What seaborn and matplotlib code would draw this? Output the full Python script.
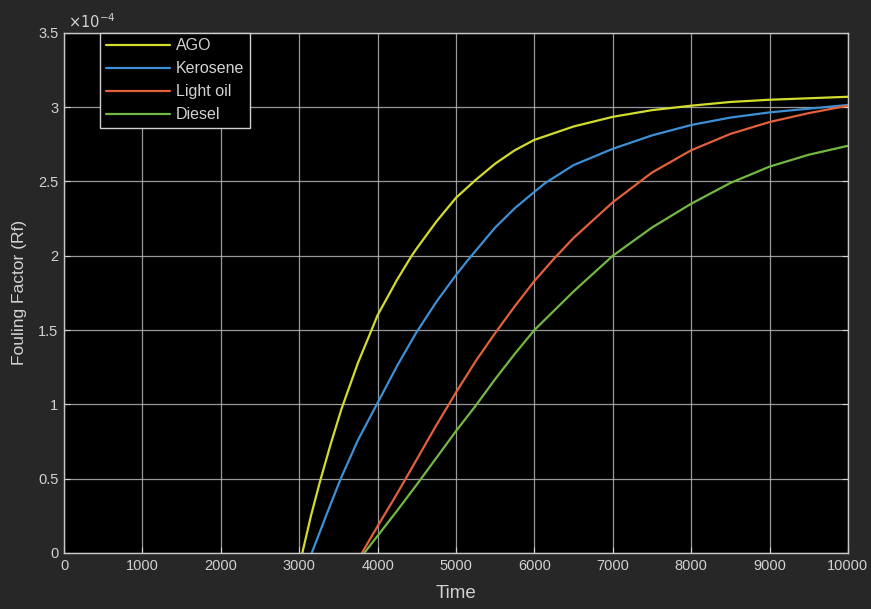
import pandas as pd
import numpy as np
import seaborn as sns
import matplotlib
matplotlib.use("Agg")
import matplotlib.pyplot as plt

# values, Rf in units of 1e-4
ago_t = [3040, 3150, 3270, 3400, 3540, 3750, 3915, 4000, 4250, 4435, 4500, 4750, 5000,
         5250, 5500, 5750, 6000, 6500, 7000, 7500, 8000, 8500, 9000, 9500, 10000]
ago_rf = [0, 0.25, 0.49, 0.73, 0.97, 1.28, 1.49, 1.6, 1.84, 2.0, 2.05, 2.23, 2.39,
          2.51, 2.62, 2.71, 2.78, 2.87, 2.935, 2.98, 3.01, 3.035, 3.05, 3.06, 3.07]

kero_t = [3160, 3350, 3530, 3750, 3990, 4250, 4490, 4750, 5000, 5150, 5500, 5750, 6000,
          6140, 6500, 7000, 7500, 8000, 8500, 9000, 9500, 10000]
kero_rf = [0, 0.26, 0.5, 0.76, 1.0, 1.26, 1.48, 1.69, 1.87, 1.97, 2.19, 2.32, 2.43,
           2.49, 2.61, 2.72, 2.81, 2.88, 2.93, 2.965, 2.99, 3.015]

light_t = [3800, 4000, 4250, 4500, 4750, 5000, 5250, 5500, 5750, 6000, 6250, 6500,
           7000, 7500, 8000, 8500, 9000, 9500, 10000]
light_rf = [0, 0.18, 0.40, 0.63, 0.86, 1.08, 1.29, 1.48, 1.66, 1.83, 1.98, 2.12,
            2.36, 2.56, 2.71, 2.82, 2.9, 2.96, 3.01]

diesel_t = [3830, 4000, 4250, 4500, 4750, 5000, 5250, 5500, 5750, 6000, 6500, 7000,
            7500, 8000, 8500, 9000, 9500, 10000]
diesel_rf = [0, 0.115, 0.285, 0.46, 0.64, 0.82, 0.99, 1.17, 1.34, 1.5, 1.76, 2.0,
             2.19, 2.35, 2.49, 2.6, 2.68, 2.74]

fuels = ["AGO", "Kerosene", "Light oil", "Diesel"]
colors = ["#d3db2c", "#3d8fd6", "#e2603a", "#72b843"]

xticks = list(range(0, 10001, 1000))
yticks = [0, 0.5, 1, 1.5, 2, 2.5, 3, 3.5]
ylabels = ["0", "0.5", "1", "1.5", "2", "2.5", "3", "3.5"]

frames = []
for name, t, rf in [("AGO", ago_t, ago_rf), ("Kerosene", kero_t, kero_rf),
                    ("Light oil", light_t, light_rf), ("Diesel", diesel_t, diesel_rf)]:
    frames.append(pd.DataFrame({"Time": t, "Rf": np.array(rf) * 1e-4, "fuel": name}))
df = pd.concat(frames, ignore_index=True)

sns.set_theme(style="dark")
txt = "#d2d2d2"
plt.rcParams.update({
    "figure.facecolor": "#272727",
    "axes.facecolor": "black",
    "axes.edgecolor": "#c8c8c8",
    "axes.labelcolor": txt,
    "xtick.color": txt,
    "ytick.color": txt,
    "text.color": txt,
    "grid.color": "#b4b4b4",
    "xtick.direction": "in",
    "ytick.direction": "in",
})
plt.rcParams["font.family"] = ["Liberation Sans", "DejaVu Sans"]

fig = plt.figure(figsize=(8.71, 6.09), dpi=100)
ax = fig.add_axes([0.0735, 0.092, 0.9, 0.854])

sns.lineplot(data=df, x="Time", y="Rf", hue="fuel", hue_order=fuels,
             palette=dict(zip(fuels, colors)), linewidth=1.6, ax=ax,
             estimator=None, sort=False)

ax.set_xlim(0, 10000)
ax.set_ylim(0, 3.5e-4)
ax.set_xticks(xticks)
ax.set_xticklabels([str(v) for v in xticks], fontsize=10.5)
ax.set_yticks([v * 1e-4 for v in yticks])
ax.set_yticklabels(ylabels, fontsize=10.5)
ax.grid(True, linewidth=0.9, alpha=0.85)
ax.tick_params(axis="both", length=4, width=0.8, pad=4, colors=txt,
               top=False, right=True, bottom=True, left=True)
for s in ax.spines.values():
    s.set_linewidth(1.0)
    s.set_color("#c8c8c8")

ax.set_xlabel("Time", fontsize=13.5, labelpad=9)
ax.set_ylabel("Fouling Factor (Rf)", fontsize=12.5, labelpad=8)
ax.text(0.005, 1.003, r"$\times10^{-4}$", transform=ax.transAxes, fontsize=10.5,
        ha="left", va="bottom", color=txt)

leg = ax.legend(loc="upper left", bbox_to_anchor=(0.046, 1.0), fontsize=11.5,
                handlelength=4.0, handletextpad=0.4, labelspacing=0.5,
                borderpad=0.35, borderaxespad=0.0, frameon=True, fancybox=False,
                facecolor="black", edgecolor="#d0d0d0", framealpha=1.0)
leg.get_frame().set_linewidth(1.0)
for t in leg.get_texts():
    t.set_color(txt)

fig.savefig("out.png", dpi=100, facecolor=fig.get_facecolor())
